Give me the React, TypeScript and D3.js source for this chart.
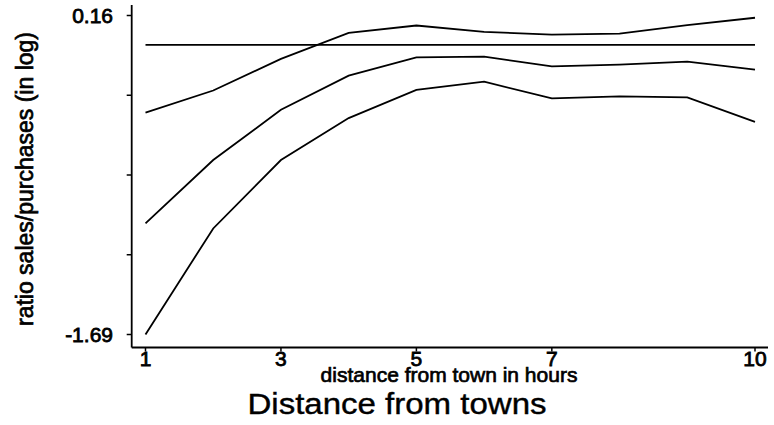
import React from "react";
import * as d3 from "d3";

const distance = [1, 2, 3, 4, 5, 6, 7, 8, 9, 10];
const upperBand = [-0.403, -0.275, -0.092, 0.059, 0.102, 0.065, 0.049, 0.055, 0.104, 0.147];
const estimate = [-1.046, -0.678, -0.387, -0.189, -0.083, -0.079, -0.135, -0.125, -0.108, -0.154];
const lowerBand = [-1.69, -1.075, -0.678, -0.435, -0.271, -0.224, -0.321, -0.309, -0.315, -0.457];
const referenceLevel = -0.01;

const xTicks = [1, 3, 5, 7, 10];
const yTicks = [0.16, -0.3025, -0.765, -1.2275, -1.69];
const yTickLabels = ["0.16", "", "", "", "-1.69"];

const xTitle = "distance from town in hours";
const yTitle = "ratio sales/purchases (in log)";
const mainTitle = "Distance from towns";

const W = 774;
const H = 425;
const FONT = "'Liberation Sans', Arial, sans-serif";

export default function App() {
  const x = d3.scaleLinear().domain([1, 10]).range([145.5, 755]);
  const y = d3.scaleLinear().domain([-1.69, 0.16]).range([334.5, 15.5]);
  const axisX = 131.7;
  const axisY = 347.5;

  const line = d3
    .line<number>()
    .x((_, i) => x(distance[i]))
    .y((d) => y(d));

  const series = [upperBand, estimate, lowerBand];
  const refSeries = distance.map(() => referenceLevel);

  return (
    <svg
      width={W}
      height={H}
      style={{ position: "absolute", left: 0, top: 0, background: "#fff" }}
    >
      <rect x={0} y={0} width={W} height={H} fill="#fff" />
      {/* axes */}
      <line x1={axisX} x2={axisX} y1={5} y2={axisY} stroke="#000" strokeWidth={1.8} />
      <line x1={axisX} x2={768} y1={axisY} y2={axisY} stroke="#000" strokeWidth={1.8} />
      {yTicks.map((t, i) => (
        <g key={"yt" + i}>
          <line x1={axisX - 5} x2={axisX} y1={y(t)} y2={y(t)} stroke="#000" strokeWidth={1.5} />
          {yTickLabels[i] && (
            <text
              x={113}
              y={y(t)}
              dy="0.35em"
              textAnchor="end"
              fontFamily={FONT}
              fontSize={21}
              stroke="#000"
              strokeWidth={0.8}
            >
              {yTickLabels[i]}
            </text>
          )}
        </g>
      ))}
      {xTicks.map((t) => (
        <g key={"xt" + t}>
          <line x1={x(t)} x2={x(t)} y1={axisY} y2={axisY + 4} stroke="#000" strokeWidth={1.5} />
          <text
            x={x(t)}
            y={366}
            textAnchor="middle"
            fontFamily={FONT}
            fontSize={21}
            stroke="#000"
            strokeWidth={0.8}
          >
            {t}
          </text>
        </g>
      ))}
      {/* lines */}
      <path d={line(refSeries) || ""} fill="none" stroke="#000" strokeWidth={1.8} />
      {series.map((s, i) => (
        <path key={"s" + i} d={line(s) || ""} fill="none" stroke="#000" strokeWidth={1.8} />
      ))}
      {/* titles */}
      <text
        x={449}
        y={382}
        textAnchor="middle"
        fontFamily={FONT}
        fontSize={21}
        stroke="#000"
        strokeWidth={0.7}
      >
        {xTitle}
      </text>
      <text
        transform={`translate(33,179) rotate(-90)`}
        textAnchor="middle"
        fontFamily={FONT}
        fontSize={23}
        stroke="#000"
        strokeWidth={0.7}
      >
        {yTitle}
      </text>
      <text
        x={397}
        y={414}
        textAnchor="middle"
        fontFamily={FONT}
        fontSize={30}
        textLength={299}
        lengthAdjust="spacingAndGlyphs"
        stroke="#000"
        strokeWidth={0.4}
      >
        {mainTitle}
      </text>
    </svg>
  );
}
